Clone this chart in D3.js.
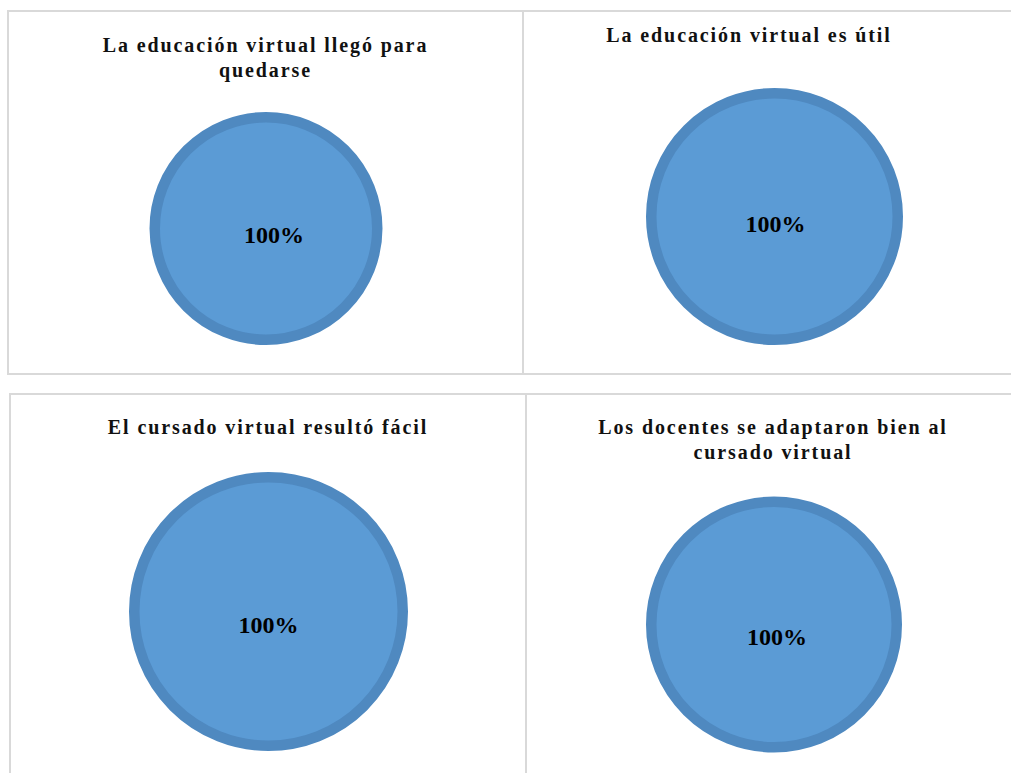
<!DOCTYPE html>
<html lang="es">
<head>
<meta charset="utf-8">
<script src="https://cdn.jsdelivr.net/npm/d3@7"></script>
<style>
  html, body { margin: 0; padding: 0; background: #fff; }
  svg { display: block; }
  .title { font-family: "Liberation Serif", "Times New Roman", serif; font-weight: bold; font-size: 20px; letter-spacing: 1.9px; fill: #111; }
  .label { font-family: "Liberation Serif", "Times New Roman", serif; font-weight: bold; font-size: 24px; fill: #000; }
</style>
</head>
<body>
<svg id="chart" width="1011" height="773"></svg>
<script>
// Four single-slice pies (every answer was "Sí", so each is 100%).
const titles = [
  ['La educación virtual llegó para', 'quedarse'],
  ['La educación virtual es útil'],
  ['El cursado virtual resultó fácil'],
  ['Los docentes se adaptaron bien al', 'cursado virtual'],
];
const categories = ['Sí'];
const values = [[100], [100], [100], [100]];

// layout of each panel as placed in the source document
const panels = [
  { x: 8,   y: 11,  w: 515, h: 363, tx: 265.5, ty: 52,  cx: 266,   cy: 228.5, r: 116.5, lx: 8,   ly: 14.5 },
  { x: 523, y: 11,  w: 500, h: 363, tx: 749,   ty: 42,  cx: 774.5, cy: 216.5, r: 128.5, lx: 1,   ly: 15.5 },
  { x: 10,  y: 394, w: 516, h: 400, tx: 268,   ty: 434, cx: 268.5, cy: 611.5, r: 139.5, lx: 0,   ly: 21.5 },
  { x: 526, y: 394, w: 500, h: 400, tx: 773,   ty: 434, cx: 774,   cy: 624.5, r: 128,   lx: 3,   ly: 20.5 },
];

const FILL = '#5b9bd5', RING = '#4f89c0', RING_W = 10.5;
const svg = d3.select('#chart');
const pie = d3.pie().sort(null);
const fmt = d3.format('.0%');

panels.forEach((p, i) => {
  const g = svg.append('g');
  g.append('rect')
    .attr('x', p.x).attr('y', p.y).attr('width', p.w).attr('height', p.h)
    .attr('fill', 'none').attr('stroke', '#d9d9d9').attr('stroke-width', 2);

  const t = g.append('text').attr('class', 'title').attr('text-anchor', 'middle');
  titles[i].forEach((line, k) => {
    t.append('tspan').attr('x', p.tx).attr('y', p.ty + k * 25).text(line);
  });

  const total = d3.sum(values[i]);
  const arc = d3.arc().innerRadius(0).outerRadius(p.r - RING_W / 2);
  const slices = pie(values[i]);
  const pg = g.append('g').attr('transform', `translate(${p.cx},${p.cy})`);
  pg.selectAll('path').data(slices).join('path')
    .attr('d', arc)
    .attr('fill', FILL)
    .attr('stroke', RING)
    .attr('stroke-width', RING_W);

  pg.selectAll('text').data(slices).join('text')
    .attr('class', 'label')
    .attr('text-anchor', 'middle')
    .attr('x', p.lx).attr('y', p.ly)
    .text(d => fmt(d.value / total));
});
</script>
</body>
</html>
